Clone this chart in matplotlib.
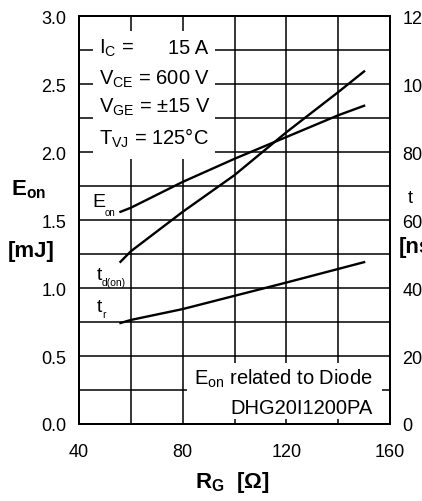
import matplotlib
matplotlib.use("Agg")
import matplotlib.pyplot as plt
from matplotlib.patches import Rectangle
import numpy as np

plt.rcParams['font.family'] = ['Liberation Sans', 'DejaVu Sans']
plt.rcParams['mathtext.fontset'] = 'custom'
plt.rcParams['mathtext.rm'] = 'Liberation Sans'
plt.rcParams['mathtext.it'] = 'Liberation Sans'
plt.rcParams['mathtext.bf'] = 'Liberation Sans:bold'

# data
rg = [56, 60, 80, 100, 120, 140, 150]
eon = [1.56, 1.59, 1.78, 1.95, 2.11, 2.27, 2.34]
td_on = [47.7, 50.8, 62.4, 73.2, 85.8, 97.6, 103.7]
t_r = [29.7, 30.6, 33.8, 37.7, 41.6, 45.6, 47.6]

x_ticks = [40, 80, 120, 160]
y_ticks = [0.0, 0.5, 1.0, 1.5, 2.0, 2.5, 3.0]
y2_ticks = [0, 20, 40, 60, 80, 100, 120]

fig = plt.figure(figsize=(4.22, 5.02), dpi=100)
ax = fig.add_axes([79/422, 77/502, 311/422, 408/502])
ax2 = ax.twinx()

ax.set_xlim(40, 160)
ax.set_ylim(0, 3)
ax2.set_ylim(0, 120)

ax.set_xticks(x_ticks)
ax.set_xticks(np.arange(40, 161, 20), minor=True)
ax.set_yticks(y_ticks)
ax.set_yticks(np.arange(0, 3.01, 0.25), minor=True)
ax.set_yticklabels([f"{v:.1f}" for v in y_ticks])
ax2.set_yticks(y2_ticks)
ax2.set_yticklabels([str(v) for v in y2_ticks])

for a in (ax, ax2):
    a.tick_params(which='both', length=0, labelsize=13, colors='black')
    for s in a.spines.values():
        s.set_linewidth(1.4)
        s.set_color('black')
ax.tick_params(axis='x', pad=14)
ax.tick_params(axis='y', pad=9)
ax2.tick_params(axis='y', pad=9)

ax.grid(True, which='both', color='black', linewidth=1.1)
ax.set_axisbelow(True)

# white boxes behind the annotations
ax.add_patch(Rectangle((0.045, 0.65), 0.392, 0.313, transform=ax.transAxes,
                       facecolor='white', edgecolor='none', zorder=1))
ax.add_patch(Rectangle((0.347, 0.012), 0.627, 0.138, transform=ax.transAxes,
                       facecolor='white', edgecolor='none', zorder=1))

ax.plot(rg, eon, color='black', lw=1.7, zorder=3)
ax2.plot(rg, td_on, color='black', lw=1.7, zorder=3)
ax2.plot(rg, t_r, color='black', lw=1.7, zorder=3)

# parameter lines
fs = 14.5
ax.text(0.064, 0.909, "I$_\\mathregular{C}$ =", transform=ax.transAxes, fontsize=fs, va='baseline', ha='left', zorder=4)
ax.text(0.415, 0.909, "15 A", transform=ax.transAxes, fontsize=fs, va='baseline', ha='right', zorder=4)
ax.text(0.064, 0.833, "V$_\\mathregular{CE}$ = 600 V", transform=ax.transAxes, fontsize=fs, va='baseline', ha='left', zorder=4)
ax.text(0.064, 0.765, "V$_\\mathregular{GE}$ = \u00b115 V", transform=ax.transAxes, fontsize=fs, va='baseline', ha='left', zorder=4)
ax.text(0.064, 0.686, "T$_\\mathregular{VJ}$ = 125\u00b0C", transform=ax.transAxes, fontsize=fs, va='baseline', ha='left', zorder=4)

ax.text(0.945, 0.098, "E$_\\mathregular{on}$ related to Diode", transform=ax.transAxes,
        fontsize=fs, va='baseline', ha='right', zorder=4)
ax.text(0.945, 0.027, "DHG20I1200PA", transform=ax.transAxes,
        fontsize=fs, va='baseline', ha='right', zorder=4)

# curve labels (main letter + small subscript)
ax.text(45.0, 1.603, "E", fontsize=14, va='baseline', zorder=5)
ax.text(50.0, 1.537, "on", fontsize=7, va='baseline', zorder=5)
ax.text(46.9, 1.066, "t", fontsize=14, va='baseline', zorder=5)
ax.text(48.8, 1.022, "d(on)", fontsize=7.5, va='baseline', zorder=5)
ax.text(46.9, 0.831, "t", fontsize=14, va='baseline', zorder=5)
ax.text(48.8, 0.787, "r", fontsize=7.5, va='baseline', zorder=5)

# axis labels
fig.text(29/422, 1 - 190/502, "E$_\\mathbf{on}$", fontsize=16, fontweight='bold', ha='center', va='center')
fig.text(31/422, 1 - 251/502, "[mJ]", fontsize=16, fontweight='bold', ha='center', va='center')
fig.text(408/422, 1 - 199/502, "t", fontsize=13, ha='left', va='center')
fig.text(399/422, 1 - 248/502, "[ns]", fontsize=16, fontweight='bold', ha='left', va='center')
fig.text(232/422, 1 - 483/502, "R$_\\mathbf{G}$  [\u03a9]", fontsize=16, fontweight='bold', ha='center', va='center')

fig.savefig("out.png", dpi=100)
